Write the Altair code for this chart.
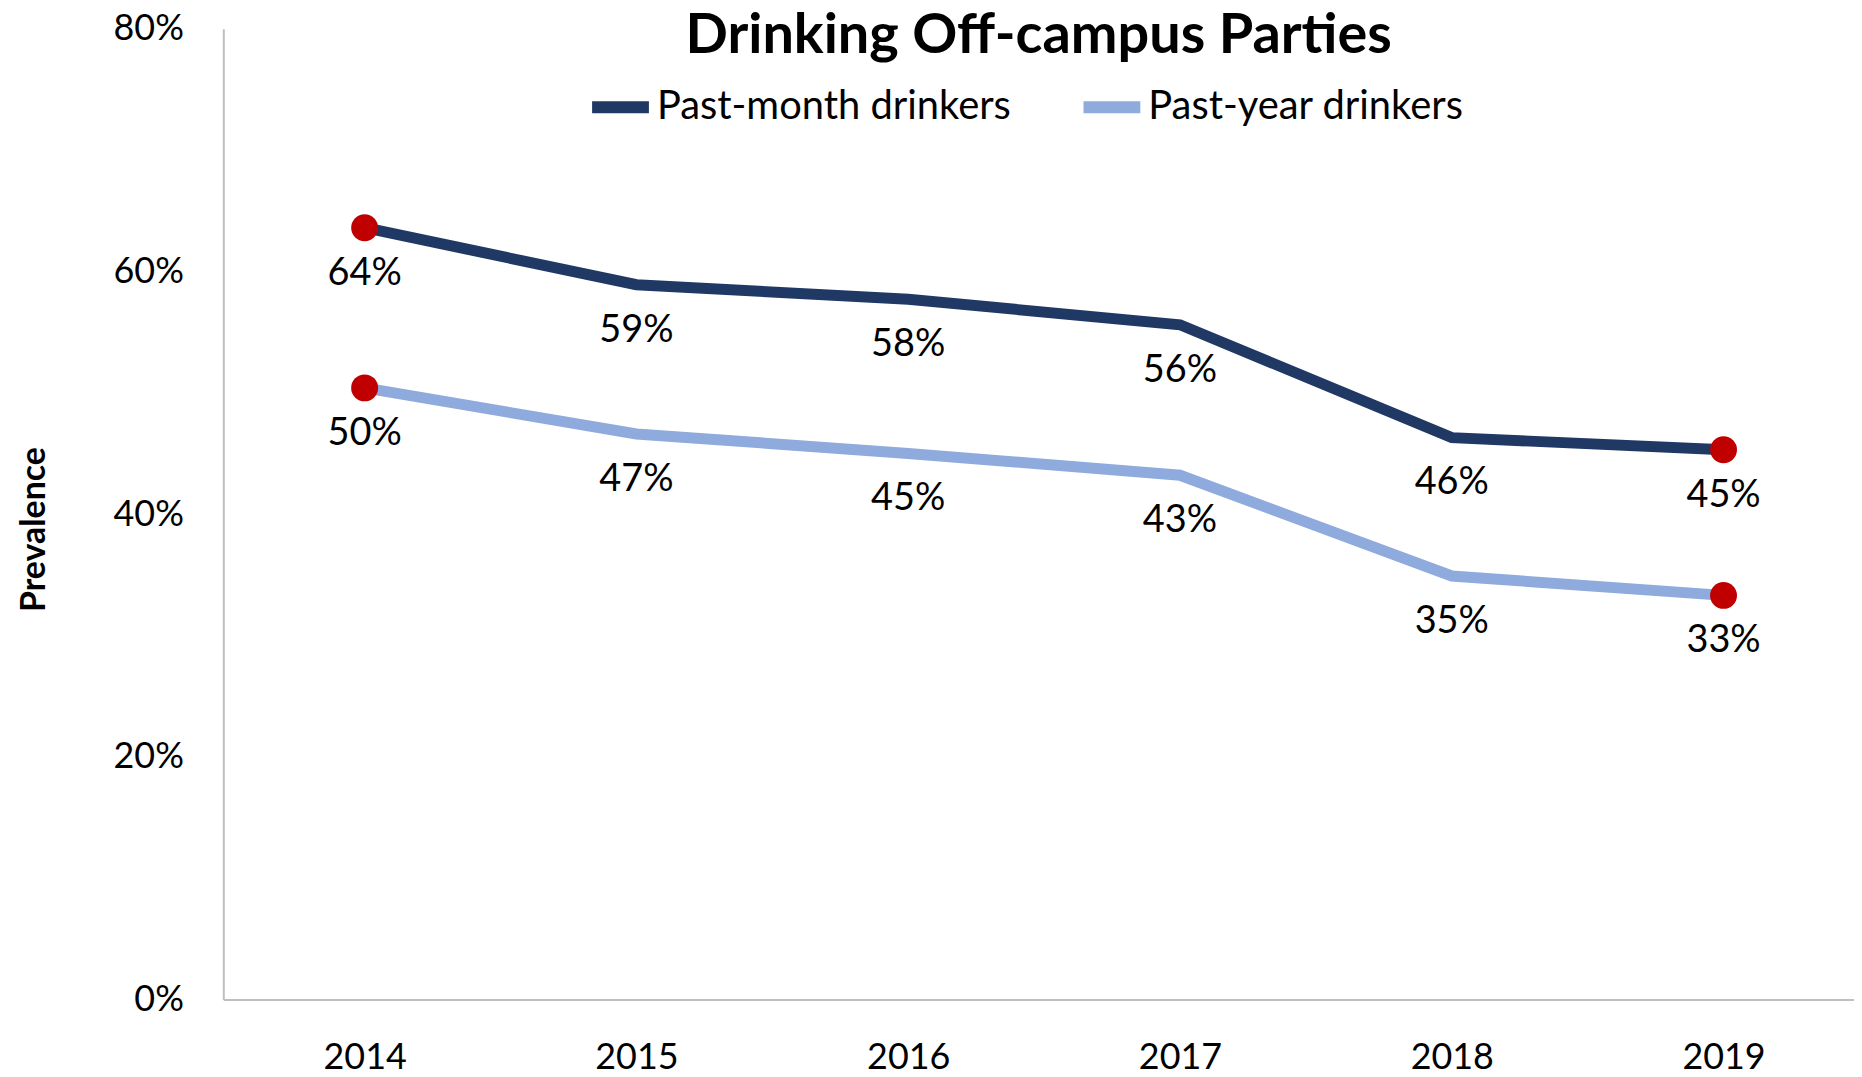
import altair as alt
import pandas as pd

years = ["2014", "2015", "2016", "2017", "2018", "2019"]
series_names = ["Past-month drinkers", "Past-year drinkers"]
past_month = [0.636, 0.589, 0.577, 0.556, 0.463, 0.453]
past_year = [0.504, 0.466, 0.450, 0.432, 0.349, 0.333]
marked_years = ["2014", "2019"]
y_ticks = [0, 0.2, 0.4, 0.6, 0.8]
colors = ["#203864", "#8FAADC"]

rows = []
for yr, m, p in zip(years, past_month, past_year):
    rows.append({"year": yr, "series": series_names[0], "value": m, "marked": yr in marked_years})
    rows.append({"year": yr, "series": series_names[1], "value": p, "marked": yr in marked_years})
df = pd.DataFrame(rows)

FONT = "Lato"

x_enc = alt.X(
    "year:N",
    sort=years,
    scale=alt.Scale(type="point", padding=0.5, align=0.52),
    axis=alt.Axis(
        title=None,
        labelAngle=0,
        ticks=False,
        domainColor="#BFBFBF",
        domainWidth=2,
        labelFontSize=36,
        labelFont=FONT,
        labelColor="black",
        labelPadding=41,
    ),
)
y_enc = alt.Y(
    "value:Q",
    scale=alt.Scale(domain=[0, 0.8], nice=False, zero=True),
    axis=alt.Axis(
        values=y_ticks,
        format=".0%",
        grid=False,
        ticks=False,
        domainColor="#BFBFBF",
        domainWidth=2,
        labelFontSize=36,
        labelFont=FONT,
        labelColor="black",
        labelPadding=40,
        title="Prevalence",
        titleFont=FONT,
        titleFontSize=34,
        titleFontWeight="bold",
        titleColor="black",
        titleX=-189,
        titleY=502,
        titleAngle=270,
        titleBaseline="middle",
        titleAlign="center",
    ),
)

base = alt.Chart(df).encode(x=x_enc, y=y_enc)

lines = base.mark_line(strokeWidth=11).encode(
    color=alt.Color(
        "series:N",
        sort=series_names,
        scale=alt.Scale(domain=series_names, range=colors),
        legend=alt.Legend(
            orient="none",
            legendX=364,
            legendY=44,
            direction="horizontal",
            title=None,
            symbolType="stroke",
            symbolStrokeWidth=12,
            symbolSize=3249,
            labelFontSize=40,
            labelFont=FONT,
            labelColor="black",
            labelOffset=2,
            labelLimit=800,
            columnPadding=48,
        ),
    ),
    detail="series:N",
)

points = base.mark_circle(size=729, color="#C00000", opacity=1).transform_filter(
    alt.datum.marked
)

labels = base.mark_text(dy=46, fontSize=38, font=FONT, color="black", baseline="middle").encode(
    text=alt.Text("value:Q", format=".0%")
)

chart = (
    alt.layer(lines, points, labels)
    .properties(
        width=1636,
        height=974,
        padding={"left": 216, "top": 19, "right": 0, "bottom": 76},
        autosize=alt.AutoSizeParams(type="none"),
        title=alt.TitleParams(
            "Drinking Off-campus Parties",
            font=FONT,
            fontSize=56,
            fontWeight="bold",
            color="black",
            anchor="middle",
            frame="group",
            baseline="alphabetic",
            offset=-98,
        ),
    )
    .configure_view(stroke=None)
)

chart.save("out.html", embed_options={"renderer": "svg", "actions": False})
